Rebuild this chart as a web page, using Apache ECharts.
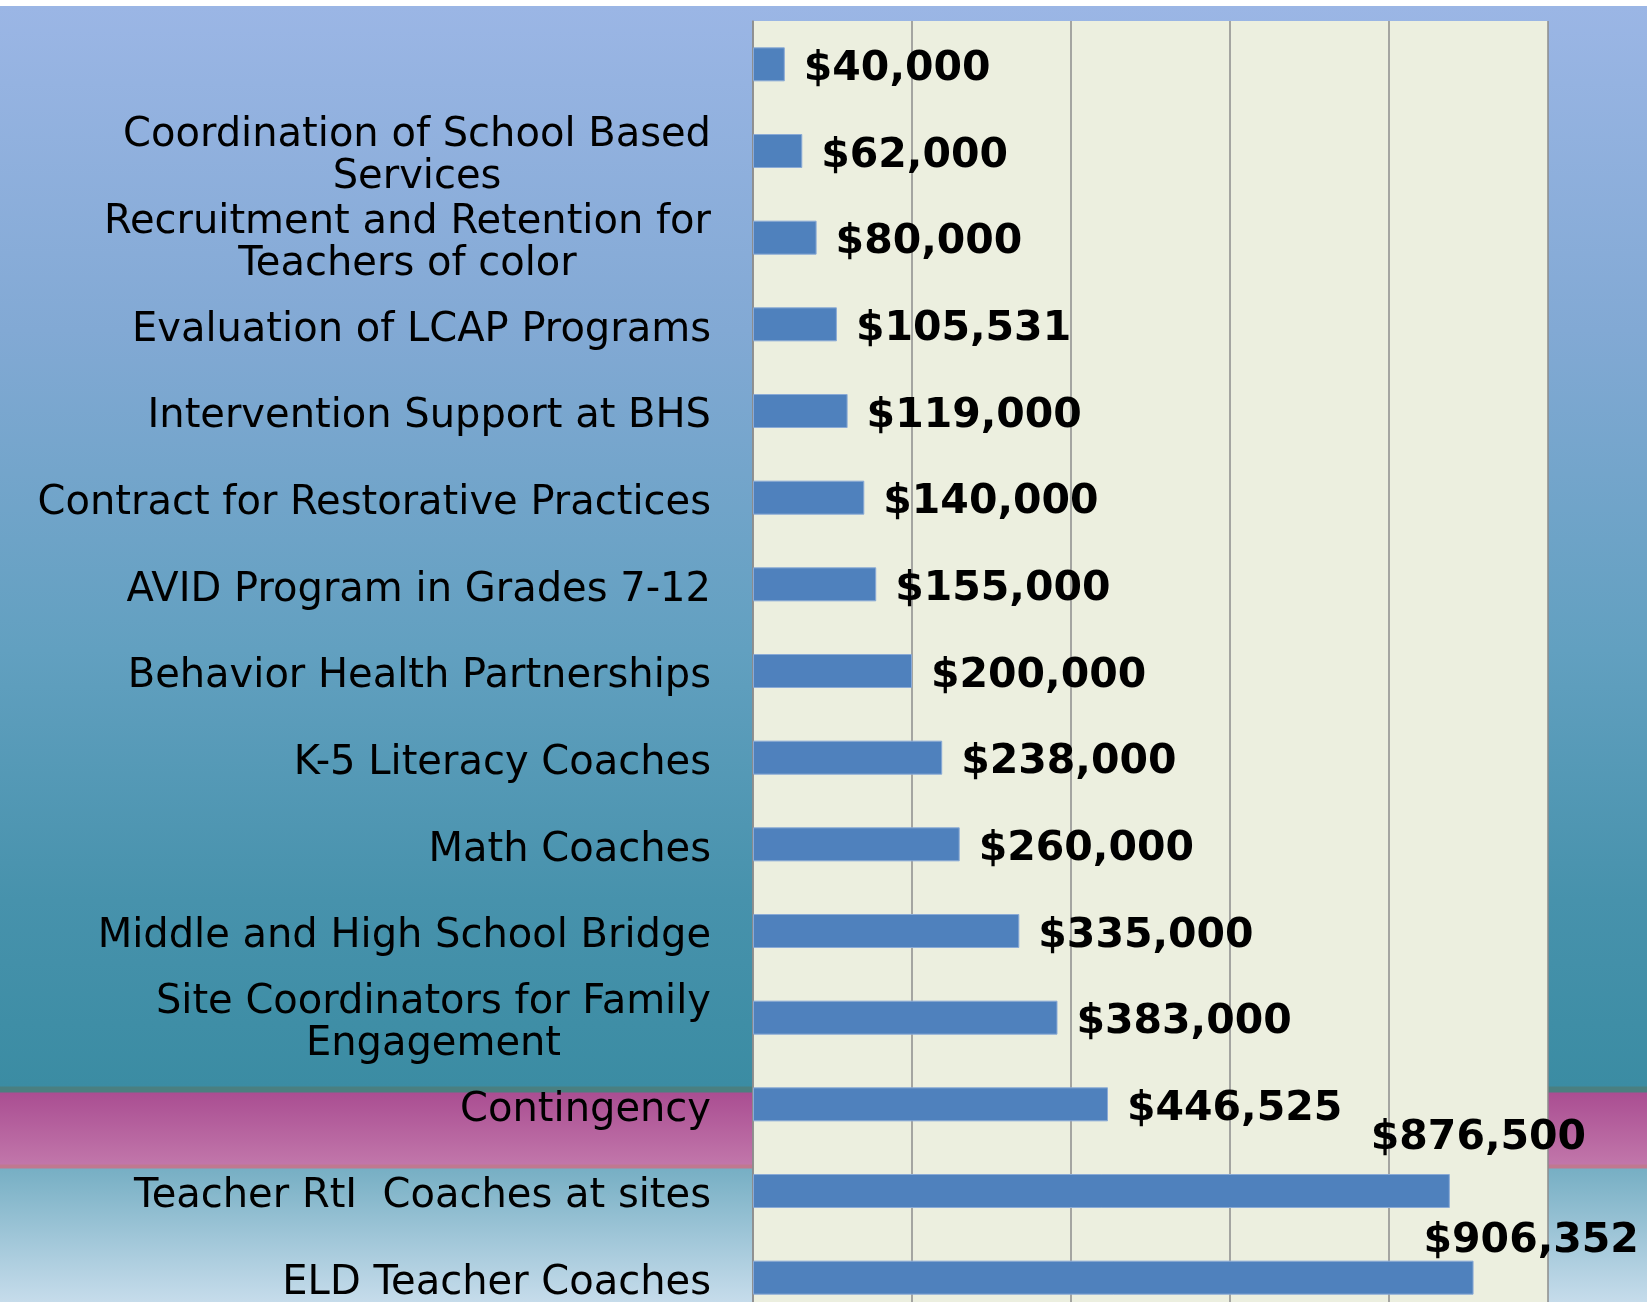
<!DOCTYPE html>
<html>
<head>
<meta charset="utf-8">
<script src="https://cdn.jsdelivr.net/npm/echarts@6/dist/echarts.min.js"></script>
<style>
  html, body { margin: 0; padding: 0; background: #fff; overflow: hidden; }
  #chart { width: 1647px; height: 1330px; }
</style>
</head>
<body>
<div id="chart"></div>
<script>
const categories = [
  '',
  'Coordination of School Based\nServices',
  'Recruitment and Retention for\nTeachers of color',
  'Evaluation of LCAP Programs',
  'Intervention Support at BHS',
  'Contract for Restorative Practices',
  'AVID Program in Grades 7-12',
  'Behavior Health Partnerships',
  'K-5 Literacy Coaches',
  'Math Coaches',
  'Middle and High School Bridge',
  'Site Coordinators for Family\nEngagement',
  'Contingency',
  'Teacher RtI  Coaches at sites',
  'ELD Teacher Coaches',
]

const amounts = [
  40000, 62000, 80000, 105531, 119000, 140000, 155000, 200000,
  238000, 260000, 335000, 383000, 446525, 876500, 906352,
]

const axisMax = 1000000
const axisStep = 200000

// the two long bars have their labels pushed up and to the left
const labelShift = { 13: [-98, -53], 14: [-69, -36] }

// chart is a bit taller than the window, the last band runs off the bottom
const H = 1330

function money(v) {
  return '$' + v.toLocaleString('en-US')
}

function stop(px, color) {
  return { offset: px / H, color: color }
}

function buildOption() {
  const data = amounts.map((v, i) => {
    const item = { value: v }
    if (labelShift[i]) item.label = { offset: labelShift[i] }
    return item
  })
  return {
    animation: false,
    backgroundColor: {
      type: 'linear', x: 0, y: 0, x2: 0, y2: 1,
      colorStops: [
        stop(0, '#ffffff'),
        stop(6, '#ffffff'),
        stop(6.2, '#9bb6e5'),
        stop(330, '#82a9d4'),
        stop(650, '#62a0c0'),
        stop(900, '#4792ac'),
        stop(1086, '#3b8ca3'),
        stop(1087, '#4a7f80'),
        stop(1092, '#4a7f80'),
        stop(1093, '#aa4e92'),
        stop(1164, '#c176aa'),
        stop(1165, '#c07890'),
        stop(1168, '#c07890'),
        stop(1169, '#77afc4'),
        stop(1302, '#c6dceb'),
        stop(H, '#c6dceb'),
      ],
    },
    grid: {
      left: 753, top: 21, width: 795, height: 1300,
      show: true, backgroundColor: '#ecefdf', borderWidth: 0,
    },
    xAxis: {
      type: 'value',
      min: 0,
      max: axisMax,
      interval: axisStep,
      axisLabel: { show: false },
      axisTick: { show: false },
      axisLine: { show: false },
      splitLine: { lineStyle: { color: '#8c8c8c', width: 1.5 } },
    },
    yAxis: {
      type: 'category',
      inverse: true,
      data: categories,
      axisLine: { lineStyle: { color: '#8c8c8c', width: 1.5 } },
      axisTick: { length: 13, lineStyle: { color: '#8c8c8c', width: 1.5 } },
      axisLabel: {
        margin: 42,
        color: '#000',
        fontFamily: 'DejaVu Sans',
        fontSize: 40,
        lineHeight: 42,
        padding: [12, 0, 0, 0],
        formatter: (v) => v.split('\n').map((s) => '{c|' + s + '}').join('\n'),
        rich: {
          c: { align: 'center', fontFamily: 'DejaVu Sans', fontSize: 40, lineHeight: 42, color: '#000' },
        },
      },
    },
    series: [
      {
        type: 'bar',
        data: data,
        barWidth: 34,
        itemStyle: { color: '#4f81bd', borderColor: '#8aaad6', borderWidth: 1 },
        label: {
          show: true,
          position: 'right',
          distance: 19,
          offset: [0, 5],
          color: '#000',
          fontFamily: 'DejaVu Sans',
          fontWeight: 'bold',
          fontSize: 41,
          formatter: (p) => money(p.value),
        },
      },
    ],
  }
}

const chart = echarts.init(document.getElementById('chart'))
chart.setOption(buildOption())
</script>
</body>
</html>
